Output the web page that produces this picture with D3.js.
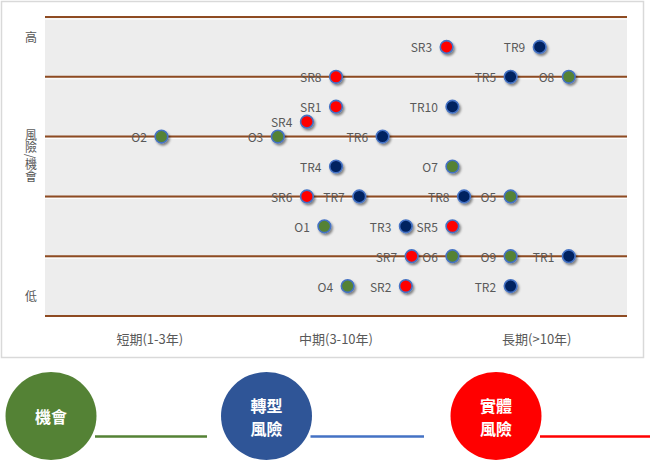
<!DOCTYPE html>
<html><head><meta charset="utf-8">
<script src="https://cdn.jsdelivr.net/npm/d3@7"></script>
<style>
html,body{margin:0;padding:0;background:#fff;}
svg{display:block;font-family:"Noto Sans CJK TC","Noto Sans",sans-serif;}
</style></head>
<body><svg id="c" width="657" height="463"></svg>
<script>
// ---- data ----
const names = ["SR3","TR9","SR8","TR5","O8","SR1","TR10","SR4","O2","O3","TR6","TR4","O7","SR6","TR7","TR8","O5","O1","TR3","SR5","SR7","O6","O9","TR1","O4","SR2","TR2"];
const xVals = [6.9,8.5,5.0,8.0,9.0,5.0,7.0,4.5,2.0,4.0,5.8,5.0,7.0,4.5,5.4,7.2,8.0,4.8,6.2,7.0,6.3,7.0,8.0,9.0,5.2,6.2,8.0];
const yVals = [9,9,8,8,8,7,7,6.5,6,6,6,5,5,4,4,4,4,3,3,3,2,2,2,2,1,1,1];
const types = ["S","T","S","T","O","S","T","S","O","O","T","T","O","S","T","T","O","O","T","S","S","O","O","T","O","S","T"];
const gridLevels = [0,2,4,6,8,10];
const xTickLabels = ["短期(1-3年)","中期(3-10年)","長期(>10年)"];
const xTickPos = [1.8,5.0,8.45];
const yTickLabels = ["高","風險/機會","低"];
const yTickPos = [9.3,5.35,0.67];
const legendLabels = [["機會"],["轉型","風險"],["實體","風險"]];
const legendColors = ["#548235","#2F5597","#FF0000"];
const legendLineColors = ["#548235","#4472C4","#FF0000"];
const typeColor = {O:"#548235", T:"#002060", S:"#FF0000"};

// ---- drawing ----
const svg = d3.select("#c");
const x = d3.scaleLinear().domain([0,10]).range([45,627]);
const y = d3.scaleLinear().domain([0,10]).range([316,17]);

const defs = svg.append("defs");
const f = defs.append("filter").attr("id","sh").attr("x","-50%").attr("y","-50%").attr("width","200%").attr("height","200%");
f.append("feDropShadow").attr("dx",1.5).attr("dy",2).attr("stdDeviation",1.3).attr("flood-color","#000").attr("flood-opacity",0.45);

// outer frame
svg.append("rect").attr("x",1.5).attr("y",1.5).attr("width",642).attr("height",356)
  .attr("fill","#fff").attr("stroke","#D9D9D9").attr("stroke-width",1.5);

// plot bg
svg.append("rect").attr("x",x(0)).attr("y",y(10)).attr("width",x(10)-x(0)).attr("height",y(0)-y(10)).attr("fill","#EDEDED");

// grid lines
const g = svg.append("g");
g.selectAll("line.w").data(gridLevels).join("line").attr("class","w")
  .attr("x1",x(0)).attr("x2",x(10)).attr("y1",d=>y(d)+2).attr("y2",d=>y(d)+2)
  .attr("stroke","#fff").attr("stroke-width",1);
g.selectAll("line.b").data(gridLevels).join("line").attr("class","b")
  .attr("x1",x(0)).attr("x2",x(10)).attr("y1",d=>y(d)).attr("y2",d=>y(d))
  .attr("stroke","#8E4B22").attr("stroke-width",2);

// x labels
svg.selectAll("text.xl").data(xTickLabels).join("text").attr("class","xl")
  .attr("x",(d,i)=>x(xTickPos[i])).attr("y",338).attr("text-anchor","middle")
  .attr("dominant-baseline","central").attr("font-size",13).attr("fill","#595959").text(d=>d);

// y labels (vertical writing)
svg.selectAll("text.yl").data(yTickLabels).join("text").attr("class","yl")
  .attr("x",31).attr("y",(d,i)=>y(yTickPos[i]))
  .attr("writing-mode","vertical-rl").style("writing-mode","vertical-rl")
  .attr("text-anchor","middle").attr("font-size",12).attr("fill","#595959").text(d=>d);

// points
const pts = names.map((n,i)=>({n, x:xVals[i], y:yVals[i], t:types[i]}));
svg.selectAll("circle.p").data(pts).join("circle").attr("class","p")
  .attr("cx",d=>x(d.x)).attr("cy",d=>y(d.y)).attr("r",6.3)
  .attr("fill",d=>typeColor[d.t]).attr("stroke","#4472C4").attr("stroke-width",1.6)
  .attr("filter","url(#sh)");
svg.selectAll("text.pl").data(pts).join("text").attr("class","pl")
  .attr("x",d=>x(d.x)-14.5).attr("y",d=>y(d.y)).attr("text-anchor","end")
  .attr("dominant-baseline","central").attr("font-size",12).attr("fill","#595959").text(d=>d.n);

// legend
const legCx = [51,266.5,496];
const lineEnds = [207,424,650];
const lg = svg.append("g");
legendLabels.forEach((lab,i)=>{
  lg.append("line").attr("x1",legCx[i]+44).attr("x2",lineEnds[i]).attr("y1",436.5).attr("y2",436.5)
    .attr("stroke",legendLineColors[i]).attr("stroke-width",2.5);
  lg.append("ellipse").attr("cx",legCx[i]).attr("cy",416).attr("rx",45.5).attr("ry",44)
    .attr("fill",legendColors[i]);
  const lh = 23;
  lab.forEach((s,k)=>{
    lg.append("text").attr("x",legCx[i]).attr("y",416 + (k-(lab.length-1)/2)*lh)
      .attr("text-anchor","middle").attr("dominant-baseline","central")
      .attr("font-size",16).attr("font-weight","bold").attr("fill","#fff").text(s);
  });
});
</script></body></html>
